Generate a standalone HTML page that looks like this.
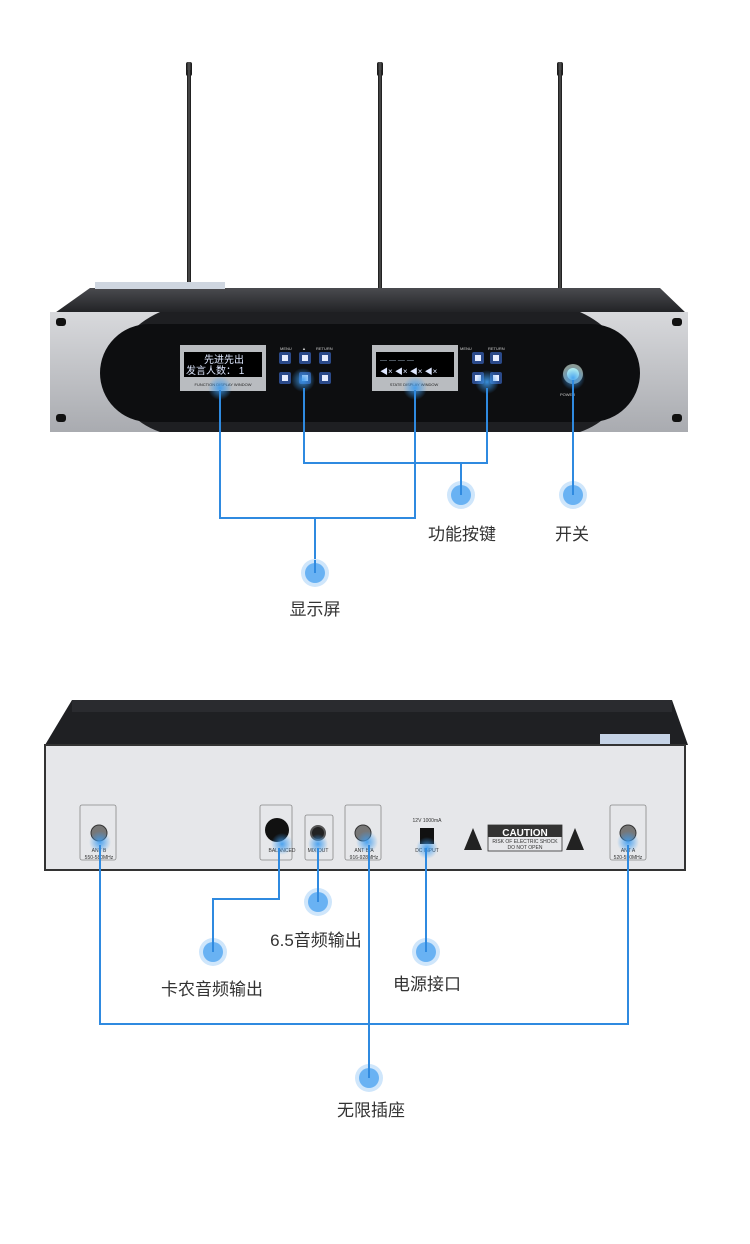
<!DOCTYPE html>
<html><head><meta charset="utf-8"><style>
html,body{margin:0;padding:0;background:#fff;}
svg{display:block;}
text{font-family:"Liberation Sans","Noto Sans CJK SC",sans-serif;}
</style></head><body>
<svg width="750" height="1244" viewBox="0 0 750 1244" xmlns="http://www.w3.org/2000/svg">
<defs>
<linearGradient id="ant" x1="0" x2="1"><stop offset="0" stop-color="#111"/><stop offset=".5" stop-color="#555"/><stop offset="1" stop-color="#111"/></linearGradient>
<linearGradient id="sil" x1="0" x2="0" y1="0" y2="1"><stop offset="0" stop-color="#d8d9dc"/><stop offset="1" stop-color="#a9abb0"/></linearGradient>
<linearGradient id="top" x1="0" x2="0" y1="0" y2="1"><stop offset="0" stop-color="#4a4b4f"/><stop offset="1" stop-color="#1d1e21"/></linearGradient>
<radialGradient id="glow"><stop offset="0" stop-color="#3d9cf0" stop-opacity=".9"/><stop offset="1" stop-color="#3d9cf0" stop-opacity="0"/></radialGradient>
<g id="dot"><circle r="14" fill="#cfe6fb"/><circle r="10" fill="#69b2f3"/></g>
<g id="btn"><rect x="-6" y="-6" width="12" height="12" rx="2" fill="#2b4a8a"/><rect x="-3" y="-3" width="6" height="6" fill="#e8eeff"/></g>
</defs>

<!-- antennas -->
<g fill="url(#ant)">
<rect x="186" y="62" width="6" height="14" rx="2"/><rect x="187" y="70" width="4" height="220"/>
<rect x="377" y="62" width="6" height="14" rx="2"/><rect x="378" y="70" width="4" height="220"/>
<rect x="557" y="62" width="6" height="14" rx="2"/><rect x="558" y="70" width="4" height="220"/>
</g>
<!-- chassis top -->
<polygon points="90,288 660,288 688,315 52,315" fill="url(#top)"/>
<rect x="95" y="282" width="130" height="7" fill="#cfd6e0"/>
<!-- front face -->
<rect x="50" y="312" width="638" height="120" fill="#1e1f22"/>
<path d="M50,312 H160 Q120,330 110,372 Q120,418 160,432 H50 Z" fill="url(#sil)"/>
<path d="M688,312 H580 Q620,330 630,372 Q620,418 580,432 H688 Z" fill="url(#sil)"/>
<rect x="56" y="318" width="10" height="8" rx="3" fill="#111"/><rect x="56" y="414" width="10" height="8" rx="3" fill="#111"/>
<rect x="672" y="318" width="10" height="8" rx="3" fill="#111"/><rect x="672" y="414" width="10" height="8" rx="3" fill="#111"/>
<rect x="100" y="324" width="540" height="98" rx="49" fill="#0d0e10"/>
<!-- left display -->
<rect x="180" y="345" width="86" height="46" fill="#b9bcc0"/>
<rect x="184" y="352" width="78" height="25" fill="#000"/>
<text x="224" y="363" fill="#dfe8ff" font-size="10" text-anchor="middle">先进先出</text>
<text x="186" y="374" fill="#dfe8ff" font-size="10">发言人数：  1</text>
<text x="223" y="386" fill="#222" font-size="4" text-anchor="middle">FUNCTION DISPLAY WINDOW</text>
<!-- buttons -->
<g fill="#ccc" font-size="4"><text x="280" y="350">MENU</text><text x="302" y="350">▲</text><text x="316" y="350">RETURN</text>
<text x="460" y="350">MENU</text><text x="488" y="350">RETURN</text><text x="560" y="396">POWER</text></g>
<use href="#btn" x="285" y="358"/><use href="#btn" x="305" y="358"/><use href="#btn" x="325" y="358"/>
<use href="#btn" x="285" y="378"/><use href="#btn" x="305" y="378"/><use href="#btn" x="325" y="378"/>
<use href="#btn" x="478" y="358"/><use href="#btn" x="496" y="358"/>
<use href="#btn" x="478" y="378"/><use href="#btn" x="496" y="378"/>
<!-- right display -->
<rect x="372" y="345" width="86" height="46" fill="#b9bcc0"/>
<rect x="376" y="352" width="78" height="25" fill="#000"/>
<text x="380" y="362" fill="#9ab" font-size="7">— — — —</text>
<text x="380" y="374" fill="#dfe8ff" font-size="8">◀× ◀× ◀× ◀×</text>
<text x="414" y="386" fill="#222" font-size="4" text-anchor="middle">STATE DISPLAY WINDOW</text>
<circle cx="573" cy="374" r="10" fill="#8a9a95"/><circle cx="573" cy="374" r="6" fill="#cfe"/>
<g fill="url(#glow)"><circle cx="220" cy="388" r="12"/><circle cx="303" cy="380" r="12"/><circle cx="415" cy="388" r="12"/><circle cx="487" cy="382" r="12"/><circle cx="573" cy="378" r="12"/></g>

<!-- front lines -->
<g stroke="#2f8ae0" stroke-width="2" fill="none">
<polyline points="220,390 220,518 415,518 415,390"/>
<line x1="315" y1="518" x2="315" y2="572"/>
<polyline points="304,388 304,463 487,463 487,388"/>
<line x1="461" y1="463" x2="461" y2="494"/>
<line x1="573" y1="380" x2="573" y2="494"/>
</g>
<use href="#dot" x="315" y="573"/><use href="#dot" x="461" y="495"/><use href="#dot" x="573" y="495"/>
<g stroke="#2f8ae0" stroke-width="2"><line x1="315" y1="560" x2="315" y2="573"/><line x1="461" y1="480" x2="461" y2="495"/><line x1="573" y1="480" x2="573" y2="495"/></g>
<g fill="#333" font-size="17" text-anchor="middle">
<text x="462" y="540">功能按键</text><text x="572" y="540">开关</text><text x="315" y="615">显示屏</text>
</g>

<!-- back chassis -->
<polygon points="72,700 672,700 688,745 45,745" fill="#1f2023"/>
<rect x="72" y="700" width="600" height="12" fill="#2a2b2f"/>
<rect x="600" y="734" width="70" height="10" fill="#c5d3e6"/>
<rect x="45" y="745" width="640" height="125" fill="#e6e7ea" stroke="#333" stroke-width="2"/>
<g fill="none" stroke="#888" stroke-width="0.8">
<rect x="80" y="805" width="36" height="55" rx="2"/>
<rect x="260" y="805" width="32" height="55" rx="2"/>
<rect x="305" y="815" width="28" height="45" rx="2"/>
<rect x="345" y="805" width="36" height="55" rx="2"/>
<rect x="610" y="805" width="36" height="55" rx="2"/>
</g>
<g fill="#777" stroke="#333"><circle cx="99" cy="833" r="8"/><circle cx="363" cy="833" r="8"/><circle cx="628" cy="833" r="8"/></g>
<circle cx="277" cy="830" r="12" fill="#111"/>
<circle cx="318" cy="833" r="7" fill="#222" stroke="#555" stroke-width="2"/>
<rect x="420" y="828" width="14" height="16" fill="#111"/>
<g font-size="5" fill="#333" text-anchor="middle">
<text x="99" y="852">ANT B</text><text x="99" y="859">550-580MHz</text>
<text x="282" y="852">BALANCED</text><text x="318" y="852">MIX OUT</text>
<text x="364" y="852">ANT B/A</text><text x="364" y="859">916-928MHz</text>
<text x="427" y="822">12V 1000mA</text><text x="427" y="852">DC INPUT</text>
<text x="628" y="852">ANT A</text><text x="628" y="859">520-550MHz</text>
<text x="525" y="843">RISK OF ELECTRIC SHOCK</text><text x="525" y="849">DO NOT OPEN</text>
</g>
<rect x="488" y="825" width="74" height="26" fill="none" stroke="#333" stroke-width="0.8"/>
<rect x="488" y="825" width="74" height="12" fill="#333"/>
<text x="525" y="836" fill="#fff" font-size="10" text-anchor="middle" font-weight="bold">CAUTION</text>
<polygon points="473,828 464,850 482,850" fill="#222"/><polygon points="575,828 566,850 584,850" fill="#222"/>
<g fill="url(#glow)"><circle cx="100" cy="842" r="11"/><circle cx="282" cy="844" r="11"/><circle cx="318" cy="844" r="10"/><circle cx="367" cy="842" r="11"/><circle cx="427" cy="848" r="11"/><circle cx="628" cy="842" r="11"/></g>

<!-- back lines -->
<g stroke="#2f8ae0" stroke-width="2" fill="none">
<polyline points="100,845 100,1024 628,1024 628,845"/>
<line x1="369" y1="845" x2="369" y2="1078"/>
<polyline points="279,848 279,899 213,899 213,952"/>
<line x1="318" y1="848" x2="318" y2="902"/>
<line x1="426" y1="848" x2="426" y2="952"/>
</g>
<use href="#dot" x="369" y="1078"/><use href="#dot" x="213" y="952"/><use href="#dot" x="318" y="902"/><use href="#dot" x="426" y="952"/>
<g stroke="#2f8ae0" stroke-width="2"><line x1="369" y1="1064" x2="369" y2="1078"/><line x1="213" y1="938" x2="213" y2="952"/><line x1="318" y1="888" x2="318" y2="902"/><line x1="426" y1="938" x2="426" y2="952"/></g>
<g fill="#333" font-size="17" text-anchor="middle">
<text x="316" y="946">6.5音频输出</text><text x="212" y="995">卡农音频输出</text>
<text x="427" y="990">电源接口</text><text x="371" y="1116">无限插座</text>
</g>
</svg>
</body></html>
